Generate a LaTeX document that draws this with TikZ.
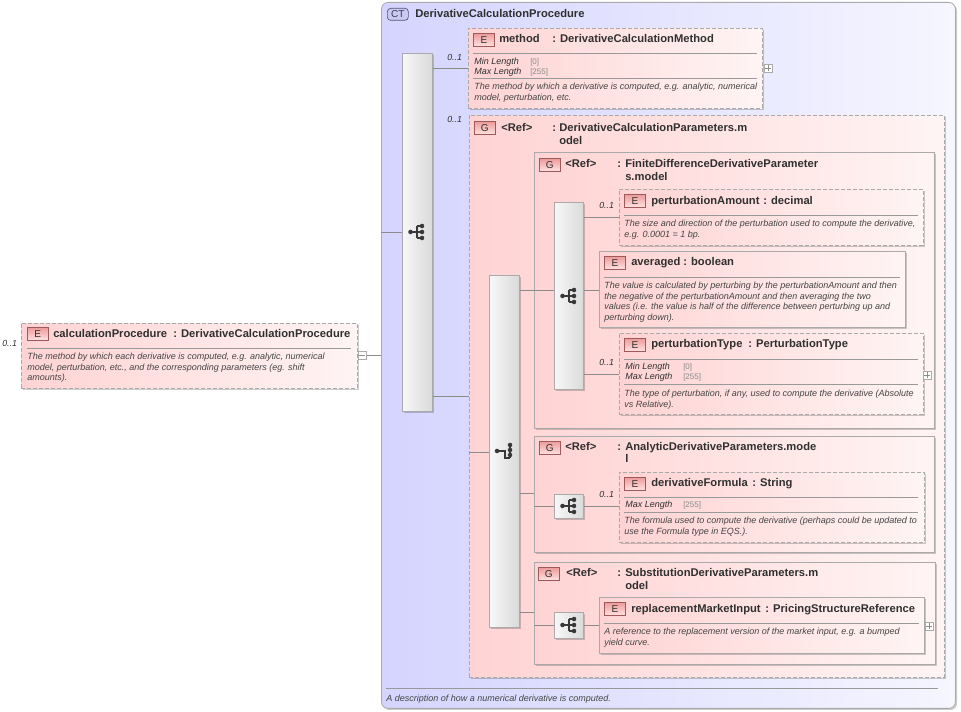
\documentclass[tikz,border=0pt]{standalone}
\usepackage{fontspec}
\setmainfont{Liberation Sans}
\usetikzlibrary{shadows,calc}
\definecolor{txt}{HTML}{303030}
\definecolor{dtxt}{HTML}{444444}
\definecolor{fv}{HTML}{8A8A8A}
\definecolor{bord}{HTML}{AAAAAA}
\definecolor{pinkL}{HTML}{FFD3D3}
\definecolor{pinkR}{HTML}{FFF4F4}
\definecolor{blueL}{HTML}{D4D4FF}
\definecolor{blueR}{HTML}{F6F6FF}
\definecolor{bdgT}{HTML}{EE9A9A}
\definecolor{bdgB}{HTML}{FFE2E2}
\definecolor{bdgD}{HTML}{9E5A5A}
\definecolor{ctB}{HTML}{C9C9F2}
\definecolor{ctD}{HTML}{55557F}
\definecolor{barL}{HTML}{F8F8F8}
\definecolor{barR}{HTML}{DADADA}
\definecolor{icon}{HTML}{383838}
\tikzset{
  wh/.style 2 args={minimum width=#1*0.75pt, minimum height=#2*0.75pt},
  shd/.style={drop shadow={shadow xshift=1.2pt, shadow yshift=-1.2pt, fill=black, opacity=0.2}},
  ebox/.style={draw=bord, line width=0.6pt, inner sep=0pt, anchor=north west, left color=pinkL, right color=pinkR, shd},
  dbox/.style={ebox, dash pattern=on 3pt off 1.5pt},
  seqbar/.style={draw=bord, line width=0.6pt, inner sep=0pt, anchor=north west, left color=barL, right color=barR, shd},
  badge/.style={draw=bdgD, line width=0.5pt, inner sep=0pt, anchor=north west, wh={21}{13}, top color=bdgT, bottom color=bdgB, font=\fontsize{7.5}{8}\selectfont, text=txt},
  ttl/.style={anchor=base west, inner sep=0pt, font=\fontsize{8.4}{10}\selectfont\bfseries, text=txt},
  dsc/.style={anchor=north west, inner sep=0pt, align=left, font=\fontsize{6.75}{7.9}\selectfont\itshape, text=dtxt},
  fct/.style={anchor=base west, inner sep=0pt, font=\fontsize{6.75}{7}\selectfont\itshape, text=txt},
  fval/.style={anchor=base west, inner sep=0pt, font=\fontsize{6}{7}\selectfont, text=fv},
  card/.style={anchor=base west, inner sep=0pt, font=\fontsize{6.6}{7}\selectfont\itshape, text=txt},
  conn/.style={draw=black!45, line width=0.6pt},
  sepl/.style={draw=black!40, line width=0.5pt},
  pm/.style={draw=bord, fill=white, inner sep=0pt, anchor=north west, wh={8}{8}},
}
\newcommand\seqicon[2]{%
  \begin{scope}[shift={(#1,#2)}]
    \draw[icon, line width=0.9pt] (-5.5,0)--(1,0) (1,-6)--(1,6) (1,-6)--(6,-6) (1,6)--(6,6) (1,0)--(6,0);
    \fill[icon] (-5.5,0) circle (1.7pt) (6,-6) circle (1.7pt) (6,0) circle (1.7pt) (6,6) circle (1.7pt);
  \end{scope}}
\newcommand\choiceicon[2]{%
  \begin{scope}[shift={(#1,#2)}]
    \draw[icon, line width=0.9pt] (-6,-1)--(2,-1)--(2,6)--(7,6) (7,-7)--(7,6);
    \fill[icon] (-6,-1) circle (1.7pt) (7,-7) circle (1.7pt) (7,-2) circle (1.7pt) (7,3) circle (1.7pt);
  \end{scope}}
\newcommand\plusbox[3]{%
  \node[pm] (#1) at (#2,#3) {};
  \draw[black!45, line width=0.4pt] ($(#1.center)+(-2.2pt,0)$) -- ($(#1.center)+(2.2pt,0)$) ($(#1.center)+(0,-2.2pt)$) -- ($(#1.center)+(0,2.2pt)$);}
\begin{document}
\begin{tikzpicture}[x=0.75pt,y=-0.75pt]
\useasboundingbox (0,0) rectangle (961,712);
\fill[white] (0,0) rectangle (961,712);

% ---------- complex type ----------
\node[draw=bord, line width=0.6pt, rounded corners=5pt, anchor=north west, wh={574}{706}, left color=blueL, right color=blueR, shd, inner sep=0pt] (ct) at (381,2) {};
\node[draw=ctD, line width=0.5pt, rounded corners=2.5pt, fill=ctB, anchor=north west, wh={21}{12}, inner sep=0pt, font=\fontsize{7.5}{8}\selectfont, text=ctD!70!black] (ctb) at (387,8) {CT};
\node[ttl] (ctt) at (415,18) {DerivativeCalculationProcedure};
\draw[sepl] (386,688) -- (938,688);
\node[dsc, anchor=base west] (ctd) at (386,701) {A description of how a numerical derivative is computed.};

% ---------- root element ----------
\node[dbox, wh={336}{65}] (calc) at (21,323) {};
\node[badge] (calcb) at (27,327) {E};
\node[ttl] (calcn) at (53,338) {calculationProcedure};
\node[ttl] (calct) at (173,338) {: DerivativeCalculationProcedure};
\draw[sepl] (27,348) -- (351,348);
\node[dsc] (calcd) at (27,353) {The method by which each derivative is computed, e.g. analytic, numerical\\model, perturbation, etc., and the corresponding parameters (eg. shift\\amounts).};
\node[card] (calcc) at (2,347) {0..1};
\node[pm] (cpm) at (358,351) {};
\draw[black!45, line width=0.4pt] ($(cpm.center)+(-2.2pt,0)$) -- ($(cpm.center)+(2.2pt,0)$);
\draw[conn] (cpm.east) -- (ct.west |- cpm.east);

% ---------- main sequence ----------
\node[seqbar, wh={30}{358}] (seq1) at (402,53) {};
\seqicon{416}{232}
\draw[conn] (ct.west |- 0,232) -- (seq1.west |- 0,232);

% ---------- method ----------
\node[dbox, wh={294}{80}] (meth) at (468,28) {};
\node[badge] (methb) at (473,33) {E};
\node[ttl] (methn) at (499,43) {method};
\node[ttl] (metht) at (552,43) {: DerivativeCalculationMethod};
\draw[sepl] (473,53) -- (757,53);
\node[fct] (methf1) at (474,65) {Min Length};
\node[fval] (methv1) at (530,65) {[0]};
\node[fct] (methf2) at (474,75) {Max Length};
\node[fval] (methv2) at (530,75) {[255]};
\draw[sepl] (473,78) -- (757,78);
\node[dsc] (methd) at (474,83) {The method by which a derivative is computed, e.g. analytic, numerical\\model, perturbation, etc.};
\node[card] (methc) at (447,61) {0..1};
\plusbox{mpm}{764}{64}
\draw[conn] (seq1.east |- 0,68) -- (meth.west |- 0,68);

% ---------- Ref group ----------
\node[dbox, wh={475}{562}] (grp) at (469,115) {};
\node[badge] (grpb) at (474,121) {G};
\node[ttl] (grpr) at (501,132) {<Ref>};
\node[ttl] (grpt) at (552,132) {:};
\node[ttl] (grpt2) at (559,132) {DerivativeCalculationParameters.m};
\node[ttl] (grpt3) at (559,145) {odel};
\node[card] (grpc) at (447,123) {0..1};
\draw[conn] (seq1.east |- 0,396) -- (grp.west |- 0,396);

% ---------- choice ----------
\node[seqbar, wh={30}{352}] (ch) at (489,275) {};
\choiceicon{503}{452}
\draw[conn] (grp.west |- 0,452) -- (ch.west |- 0,452);

% ---------- Finite difference group ----------
\node[ebox, wh={400}{276}] (fd) at (534,152) {};
\node[badge] (fdb) at (539,158) {G};
\node[ttl] (fdr) at (565,168) {<Ref>};
\node[ttl] (fdt) at (617,168) {:};
\node[ttl] (fdt2) at (625,168) {FiniteDifferenceDerivativeParameter};
\node[ttl] (fdt3) at (625,181) {s.model};
\draw[conn] (ch.east |- 0,290) -- (fd.west |- 0,290);
\node[seqbar, wh={29}{187}] (seq2) at (554,202) {};
\seqicon{568}{296}
\draw[conn] (fd.west |- 0,290) -- (seq2.west |- 0,290);

% perturbationAmount
\node[dbox, wh={304}{56}] (pa) at (619,189) {};
\node[badge] (pab) at (624,194) {E};
\node[ttl] (pan) at (651,205) {perturbationAmount};
\node[ttl] (pat) at (763,205) {: decimal};
\draw[sepl] (624,215) -- (918,215);
\node[dsc] (pad) at (624,220) {The size and direction of the perturbation used to compute the derivative,\\e.g. 0.0001 = 1 bp.};
\node[card] (pac) at (599,209) {0..1};
\draw[conn] (seq2.east |- 0,217) -- (pa.west |- 0,217);

% averaged
\node[ebox, wh={306}{76}] (av) at (599,251) {};
\node[badge] (avb) at (604,256) {E};
\node[ttl] (avn) at (631,266) {averaged};
\node[ttl] (avt) at (683,266) {: boolean};
\draw[sepl] (604,277) -- (900,277);
\node[dsc] (avd) at (604,282) {The value is calculated by perturbing by the perturbationAmount and then\\the negative of the perturbationAmount and then averaging the two\\values (i.e. the value is half of the difference between perturbing up and\\perturbing down).};
\draw[conn] (seq2.east |- 0,290) -- (av.west |- 0,290);

% perturbationType
\node[dbox, wh={304}{81}] (pt) at (619,333) {};
\node[badge] (ptb) at (624,338) {E};
\node[ttl] (ptn) at (651,348) {perturbationType};
\node[ttl] (ptt) at (748,348) {: PerturbationType};
\draw[sepl] (624,359) -- (918,359);
\node[fct] (ptf1) at (625,370) {Min Length};
\node[fval] (ptv1) at (683,370) {[0]};
\node[fct] (ptf2) at (625,380) {Max Length};
\node[fval] (ptv2) at (683,380) {[255]};
\draw[sepl] (624,384) -- (918,384);
\node[dsc] (ptd) at (624,390) {The type of perturbation, if any, used to compute the derivative (Absolute\\vs Relative).};
\node[card] (ptc) at (599,366) {0..1};
\plusbox{ppm}{923}{371}
\draw[conn] (seq2.east |- 0,374) -- (pt.west |- 0,374);

% ---------- Analytic group ----------
\node[ebox, wh={400}{116}] (an) at (534,436) {};
\node[badge] (anb) at (539,441) {G};
\node[ttl] (anr) at (565,451) {<Ref>};
\node[ttl] (ant) at (617,451) {:};
\node[ttl] (ant2) at (625,451) {AnalyticDerivativeParameters.mode};
\node[ttl] (ant3) at (625,463) {l};
\draw[conn] (ch.east |- 0,493) -- (an.west |- 0,493);
\node[seqbar, wh={29}{24}] (seq3) at (554,494) {};
\seqicon{568}{506}
\draw[conn] (an.west |- 0,506) -- (seq3.west |- 0,506);

\node[dbox, wh={305}{70}] (df) at (619,472) {};
\node[badge] (dfb) at (624,477) {E};
\node[ttl] (dfn) at (651,487) {derivativeFormula};
\node[ttl] (dft) at (752,487) {: String};
\draw[sepl] (624,497) -- (918,497);
\node[fct] (dff) at (625,508) {Max Length};
\node[fval] (dfv) at (683,508) {[255]};
\draw[sepl] (624,512) -- (918,512);
\node[dsc] (dfd) at (624,517) {The formula used to compute the derivative (perhaps could be updated to\\use the Formula type in EQS.).};
\node[card] (dfc) at (599,498) {0..1};
\draw[conn] (seq3.east |- 0,506) -- (df.west |- 0,506);

% ---------- Substitution group ----------
\node[ebox, wh={401}{102}] (sb) at (534,562) {};
\node[badge] (sbb) at (538,567) {G};
\node[ttl] (sbr) at (566,577) {<Ref>};
\node[ttl] (sbt) at (617,577) {:};
\node[ttl] (sbt2) at (625,577) {SubstitutionDerivativeParameters.m};
\node[ttl] (sbt3) at (625,590) {odel};
\draw[conn] (ch.east |- 0,612) -- (sb.west |- 0,612);
\node[seqbar, wh={29}{26}] (seq4) at (554,612) {};
\seqicon{568}{625}
\draw[conn] (sb.west |- 0,625) -- (seq4.west |- 0,625);

\node[ebox, wh={325}{56}] (rmi) at (599,597) {};
\node[badge] (rmib) at (604,602) {E};
\node[ttl] (rmin) at (631,613) {replacementMarketInput};
\node[ttl] (rmit) at (765,613) {: PricingStructureReference};
\draw[sepl] (604,623) -- (919,623);
\node[dsc] (rmid) at (604,628) {A reference to the replacement version of the market input, e.g. a bumped\\yield curve.};
\plusbox{rpm}{925}{622}
\draw[conn] (seq4.east |- 0,625) -- (rmi.west |- 0,625);

\end{tikzpicture}
\end{document}
